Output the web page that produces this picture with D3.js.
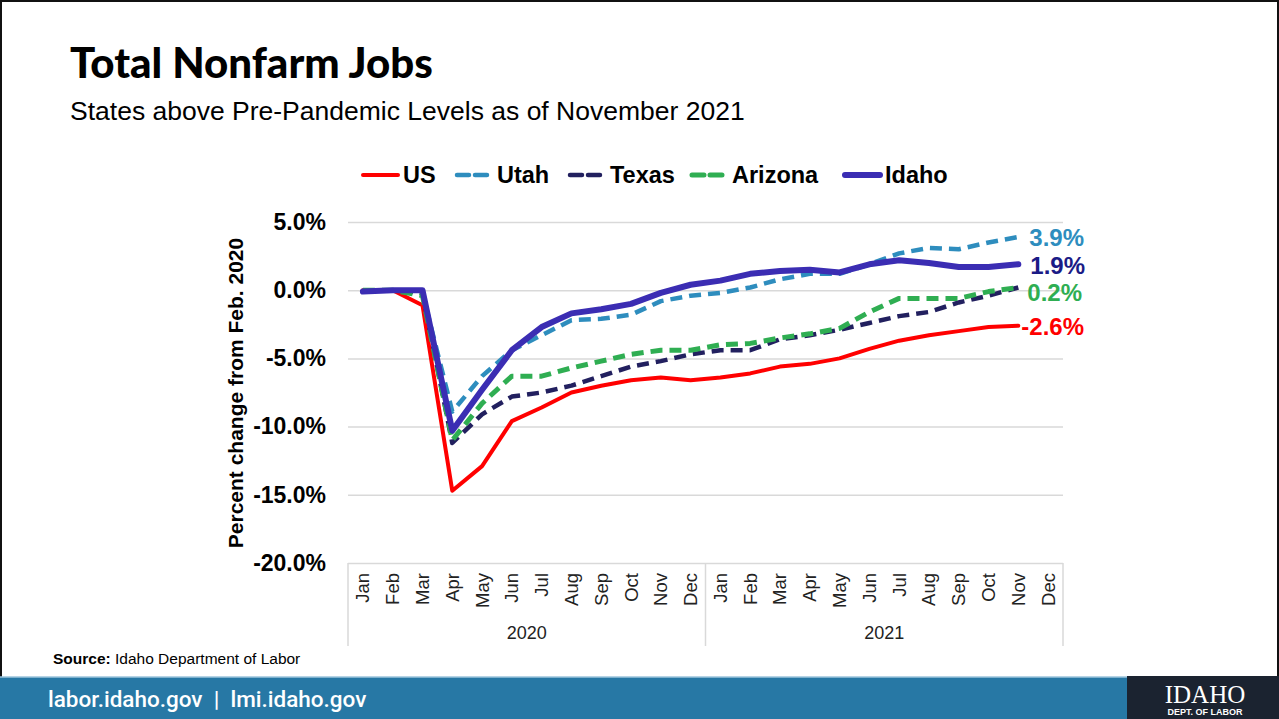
<!DOCTYPE html>
<html>
<head>
<meta charset="utf-8">
<script src="https://cdn.jsdelivr.net/npm/d3@7"></script>
<style>
  html, body { margin: 0; padding: 0; background: #fff; }
  svg { display: block; }
</style>
</head>
<body>
<svg id="chart" width="1279" height="719"></svg>
<script>
// ---------- DATA ----------
const monthNames = ["Jan","Feb","Mar","Apr","May","Jun","Jul","Aug","Sep","Oct","Nov","Dec"];
const years = ["2020", "2021"];
const yTicks = [5, 0, -5, -10, -15, -20];

const usValues      = [0, 0, -1.1, -14.7, -12.9, -9.6, -8.6, -7.5, -7.0, -6.6, -6.4, -6.6, -6.4, -6.1, -5.6, -5.4, -5.0, -4.3, -3.7, -3.3, -3.0, -2.7, -2.6];
const utahValues    = [0, 0, -0.2, -8.9, -6.3, -4.4, -3.3, -2.2, -2.1, -1.8, -0.8, -0.4, -0.2, 0.2, 0.8, 1.2, 1.2, 1.9, 2.7, 3.1, 3.0, 3.5, 3.9];
const texasValues   = [0, 0, -0.2, -11.2, -9.1, -7.8, -7.5, -7.0, -6.3, -5.6, -5.2, -4.7, -4.4, -4.4, -3.6, -3.3, -2.9, -2.4, -1.9, -1.6, -0.9, -0.4, 0.2];
const arizonaValues = [0, 0, -0.4, -11.0, -8.3, -6.3, -6.3, -5.7, -5.2, -4.7, -4.4, -4.4, -4.0, -3.9, -3.5, -3.2, -2.8, -1.6, -0.6, -0.6, -0.6, -0.1, 0.2];
const idahoValues   = [-0.1, 0, 0, -10.3, -7.3, -4.4, -2.7, -1.7, -1.4, -1.0, -0.2, 0.4, 0.7, 1.2, 1.4, 1.5, 1.3, 1.9, 2.2, 2.0, 1.7, 1.7, 1.9];

const seriesNames  = ["US", "Utah", "Texas", "Arizona", "Idaho"];
const seriesValues = [usValues, utahValues, texasValues, arizonaValues, idahoValues];
const endLabels    = ["-2.6%", "3.9%", "", "0.2%", "1.9%"];

// ---------- STYLES ----------
const styles = {
  US:      { color: "#FF0000", width: 4,   dash: null,    label: "#FF0000", lx: 3,  ly: 1 },
  Utah:    { color: "#2E8DBE", width: 4.5, dash: "12,7",  label: "#2E8DBE", lx: 11, ly: 1 },
  Texas:   { color: "#22205F", width: 4.5, dash: "12,7",  label: "#22205F", lx: 10, ly: 0 },
  Arizona: { color: "#2FAE52", width: 5,   dash: "12,7",  label: "#2FAE52", lx: 9,  ly: 5 },
  Idaho:   { color: "#3B2DB3", width: 6,   dash: null,    label: "#1B1B86", lx: 12, ly: 1 }
};
const fontSans = "'Liberation Sans', Arial, sans-serif";

const svg = d3.select("#chart");

// slide frame
svg.append("rect").attr("x", 1).attr("y", 1).attr("width", 1277).attr("height", 717)
  .attr("fill", "#fff").attr("stroke", "#111").attr("stroke-width", 2);

// Title & subtitle
svg.append("text").attr("x", 70).attr("y", 78)
  .style("font-family", "Lato, 'DejaVu Sans', sans-serif").style("font-weight", 900)
  .style("font-size", "42px").attr("fill", "#000").text("Total Nonfarm Jobs");
svg.append("text").attr("x", 70).attr("y", 120)
  .style("font-family", fontSans)
  .style("font-size", "26.5px").attr("fill", "#000")
  .text("States above Pre-Pandemic Levels as of November 2021");

// ---------- SCALES ----------
const cats = [];
years.forEach(y => monthNames.forEach(m => cats.push(y + "-" + m)));
const x = d3.scaleBand().domain(cats).range([348, 1063]).paddingInner(0).paddingOuter(0);
const xc = i => x(cats[i]) + x.bandwidth() / 2;
const y = d3.scaleLinear().domain([-20, 5]).range([563, 222]);

// gridlines + y tick labels
const gAxisY = svg.append("g").attr("transform", "translate(348,0)")
  .call(d3.axisLeft(y).tickValues(yTicks).tickSize(-(1063 - 348)).tickPadding(22)
        .tickFormat(d => d.toFixed(1) + "%"));
gAxisY.select(".domain").remove();
gAxisY.selectAll(".tick line").attr("stroke", "#d9d9d9").attr("stroke-width", 1.5);
gAxisY.selectAll(".tick text")
  .style("font-family", fontSans).style("font-weight", "bold")
  .style("font-size", "23px").attr("fill", "#000");

// y axis title
svg.append("text").attr("transform", "translate(243,393) rotate(-90)")
  .attr("text-anchor", "middle")
  .style("font-family", fontSans).style("font-weight", "bold")
  .style("font-size", "21px").attr("fill", "#000").text("Percent change from Feb. 2020");

// x axis: month labels
const gx = svg.append("g").attr("transform", "translate(0,563)")
  .call(d3.axisBottom(x).tickSize(0).tickFormat(d => d.split("-")[1]));
gx.select(".domain").remove();
gx.selectAll(".tick text")
  .attr("transform", "rotate(-90)")
  .attr("x", -10).attr("y", 0).attr("dy", "0.35em")
  .attr("text-anchor", "end")
  .style("font-family", fontSans)
  .style("font-size", "18.5px").attr("fill", "#222");

// group box lines
const boxColor = "#d9d9d9";
const boundaries = [0, 12, 24].map(i => i < 24 ? x(cats[i]) : 1063);
boundaries.forEach(bx => {
  svg.append("line").attr("x1", bx).attr("x2", bx).attr("y1", 563).attr("y2", 646)
    .attr("stroke", boxColor).attr("stroke-width", 1.5);
});
years.forEach((yr, k) => {
  const cx = (boundaries[k] + boundaries[k + 1]) / 2;
  svg.append("text").attr("x", cx).attr("y", 639).attr("text-anchor", "middle")
    .style("font-family", fontSans)
    .style("font-size", "18px").attr("fill", "#222").text(yr);
});

// ---------- LINES ----------
const line = d3.line().x((d, i) => xc(i)).y(d => y(d)).curve(d3.curveLinear);
seriesNames.forEach((name, k) => {
  const s = styles[name];
  svg.append("path").datum(seriesValues[k])
    .attr("d", line).attr("fill", "none")
    .attr("stroke", s.color).attr("stroke-width", s.width)
    .attr("stroke-linejoin", "round").attr("stroke-linecap", s.dash ? "butt" : "round")
    .attr("stroke-dasharray", s.dash);
});

// end labels
seriesNames.forEach((name, k) => {
  if (!endLabels[k]) return;
  const s = styles[name];
  const vals = seriesValues[k];
  const last = vals.length - 1;
  svg.append("text").attr("x", xc(last) + s.lx).attr("y", y(vals[last]) + s.ly)
    .attr("dy", "0.35em")
    .style("font-family", fontSans).style("font-weight", "bold")
    .style("font-size", "24px").attr("fill", s.label).text(endLabels[k]);
});

// ---------- LEGEND ----------
const legendItems = [
  { name: "US",      x: 363 },
  { name: "Utah",    x: 457 },
  { name: "Texas",   x: 570 },
  { name: "Arizona", x: 692 },
  { name: "Idaho",   x: 845 }
];
legendItems.forEach(it => {
  const s = styles[it.name];
  svg.append("line").attr("x1", it.x).attr("x2", it.x + 35).attr("y1", 175).attr("y2", 175)
    .attr("stroke", s.color).attr("stroke-width", s.width)
    .attr("stroke-dasharray", s.dash ? "12,6" : null)
    .attr("stroke-linecap", "round");
  svg.append("text").attr("x", it.x + 40).attr("y", 175).attr("dy", "0.36em")
    .style("font-family", fontSans).style("font-weight", "bold")
    .style("font-size", "23.5px").attr("fill", "#000").text(it.name);
});

// ---------- SOURCE ----------
const src = svg.append("text").attr("x", 53).attr("y", 664)
  .style("font-family", fontSans)
  .style("font-size", "15.5px").attr("fill", "#000");
src.append("tspan").style("font-weight", "bold").text("Source:");
src.append("tspan").text(" Idaho Department of Labor");

// ---------- FOOTER ----------
svg.append("rect").attr("x", 0).attr("y", 677).attr("width", 1279).attr("height", 42).attr("fill", "#2778A5");
svg.append("line").attr("x1", 0).attr("x2", 1279).attr("y1", 677).attr("y2", 677).attr("stroke", "#9cc4dc").attr("stroke-width", 1.5);
svg.append("text").attr("x", 48).attr("y", 707)
  .style("font-family", "Roboto, 'Open Sans', sans-serif").style("font-weight", 500)
  .style("font-size", "22.5px").style("white-space", "pre").attr("fill", "#fff")
  .text("labor.idaho.gov  |  lmi.idaho.gov");
svg.append("rect").attr("x", 1127).attr("y", 676).attr("width", 152).attr("height", 43).attr("fill", "#1B2330");
svg.append("text").attr("x", 1205).attr("y", 703).attr("text-anchor", "middle")
  .style("font-family", "'Liberation Serif', serif").style("font-size", "25px")
  .attr("fill", "#fff").text("IDAHO");
svg.append("text").attr("x", 1205).attr("y", 715).attr("text-anchor", "middle")
  .style("font-family", fontSans).style("font-weight", "bold")
  .style("font-size", "9px").attr("fill", "#fff").text("DEPT. OF LABOR");
</script>
</body>
</html>
